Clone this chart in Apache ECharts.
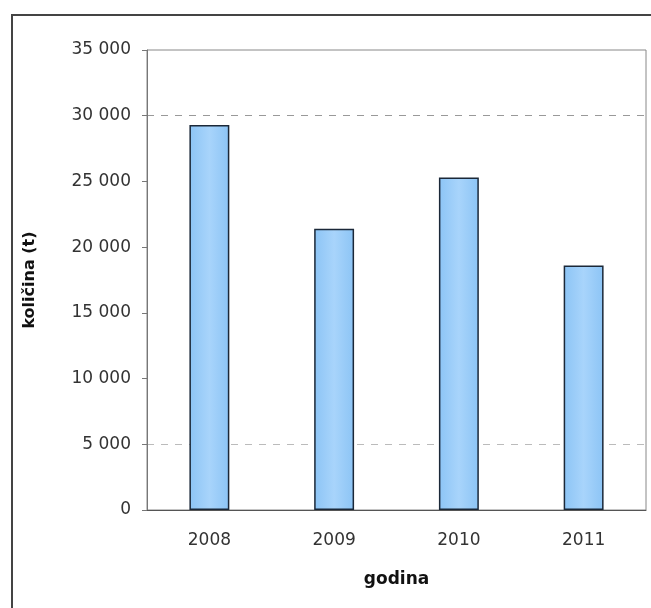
<!DOCTYPE html>
<html><head><meta charset="utf-8">
<script src="https://cdn.jsdelivr.net/npm/echarts@6/dist/echarts.min.js"></script>
<style>html,body{margin:0;padding:0;background:#fff;}#c{width:651px;height:608px;}</style>
</head><body><div id="c"></div>
<script>
const categories = ['2008', '2009', '2010', '2011'];
const values = [29300, 21400, 25300, 18600];
const yTicks = [0, 5000, 10000, 15000, 20000, 25000, 30000, 35000];
const yTitle = 'količina (t)';
const xTitle = 'godina';

const chart = echarts.init(document.getElementById('c'), null, {renderer: 'canvas'});
const fmt = v => v === 0 ? '0' : String(v).replace(/\B(?=(\d{3})+(?!\d))/g, ' ');
const FONT = 'DejaVu Sans';
chart.setOption({
  animation: false,
  backgroundColor: '#fff',
  graphic: [{
    type: 'rect', shape: {x: 12, y: 15, width: 700, height: 700},
    style: {fill: 'none', stroke: '#444', lineWidth: 2}, silent: true, z: -1
  }],
  grid: {left: 147, top: 50, width: 499, height: 460, show: true, borderColor: '#888', borderWidth: 1, backgroundColor: 'transparent'},
  xAxis: {
    type: 'category', data: categories,
    axisLine: {show: true, lineStyle: {color: '#555', width: 1}},
    axisTick: {show: false},
    axisLabel: {color: '#333', fontFamily: FONT, fontSize: 17, margin: 22},
    name: xTitle, nameLocation: 'middle', nameGap: 61,
    nameTextStyle: {color: '#111', fontFamily: FONT, fontWeight: 'bold', fontSize: 17}
  },
  yAxis: {
    type: 'value', min: yTicks[0], max: yTicks[yTicks.length - 1], interval: 5000,
    axisLine: {show: true, lineStyle: {color: '#777', width: 1}},
    axisTick: {show: true, length: 5, lineStyle: {color: '#777'}},
    axisLabel: {color: '#333', fontFamily: FONT, fontSize: 17, margin: 16, formatter: fmt},
    splitLine: {show: true, lineStyle: {type: [7, 7], width: 1,
      color: ['transparent', '#bbb', 'transparent', 'transparent', 'transparent', 'transparent', '#999', 'transparent']}},
    name: yTitle, nameLocation: 'middle', nameGap: 109, nameRotate: 90,
    nameTextStyle: {color: '#111', fontFamily: FONT, fontWeight: 'bold', fontSize: 16}
  },
  series: [{
    type: 'bar', data: values, barWidth: '32%',
    itemStyle: {
      color: new echarts.graphic.LinearGradient(0, 0, 1, 0, [
        {offset: 0, color: '#8cc4f5'}, {offset: 0.5, color: '#a8d4fb'}, {offset: 1, color: '#8cc4f5'}
      ]),
      borderColor: '#1b2838', borderWidth: 1.5
    }
  }]
});
</script></body></html>
